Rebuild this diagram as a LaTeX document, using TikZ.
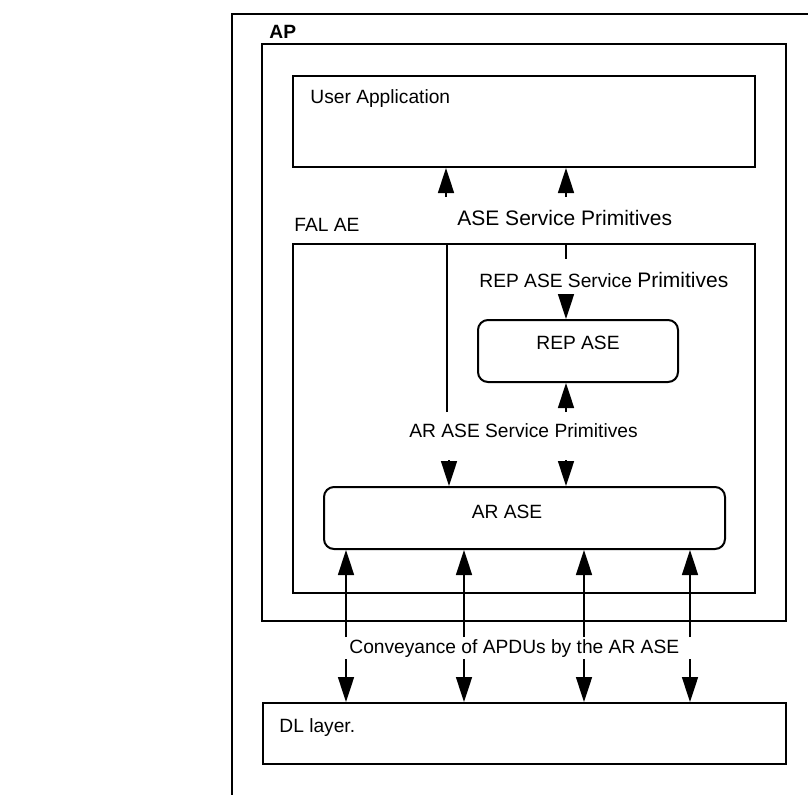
\documentclass[tikz,border=0pt]{standalone}
\usepackage{fontspec}
\setmainfont{Liberation Sans}
\usetikzlibrary{arrows.meta,fit}

\begin{document}
\begin{tikzpicture}[x=0.5pt,y=-0.5pt,>={Triangle[width=8pt,length=12.5pt]}]
  \tikzstyle{box}=[draw,line width=1pt,inner sep=0pt]
  \tikzstyle{rbox}=[box,rounded corners=5pt]
  \tikzstyle{txt}=[inner sep=0pt,anchor=base west,font=\fontsize{9.6}{11}\selectfont]
  \tikzstyle{ln}=[line width=0.8pt]
  \useasboundingbox (0,0) rectangle (808,794);
  \fill[white] (0,0) rectangle (808,794);

  % AP frame, runs off the page
  \node[box,fit={(232,14) (840,830)}] (ap) {};
  \node[txt,font=\bfseries\fontsize{9.6}{11}\selectfont] (aplbl) at (269,38) {AP};
  \node[box,fit={(262,44) (786,621)}] (apin) {};

  \node[box,fit={(293,76) (755,167)}] (ua) {};
  \node[txt] (ualbl) at (310,103) {User Application};

  \node[txt] (fallbl) at (294,231) {FAL AE};
  \node[box,fit={(293,244) (755,593)}] (fal) {};
  \node[rbox,fit={(478,320) (678,382)}] (rep) {};
  \node[txt,anchor=base] (replbl) at (578,349) {REP ASE};
  \node[rbox,fit={(324,487) (725,549)}] (ar) {};
  \node[txt,anchor=base] (arlbl) at (507,518) {AR ASE};

  \node[box,fit={(263,703) (786,764)}] (dl) {};
  \node[txt] (dllbl) at (279,732) {DL layer.};

  % service primitive labels
  \node[txt,font=\fontsize{10.5}{12}\selectfont] (asesp) at (457,225) {ASE Service Primitives};
  \node[txt] (repsp) at (479,287) {REP ASE Service {\fontsize{10.5}{12}\selectfont Primitives}};
  \node[txt] (arsp) at (409,437) {AR ASE Service Primitives};
  \node[txt] (conv) at (349,653) {Conveyance of APDUs by the AR ASE};

  % divider inside FAL AE
  \coordinate (dv) at (447,412);
  \draw[ln] (dv) -- (dv |- fal.north);

  % to user application
  \coordinate (u1) at (446,197);
  \coordinate (u2) at (566,197);
  \draw[ln,->] (u1) -- (u1 |- ua.south);
  \draw[ln,->] (u2) -- (u2 |- ua.south);

  % REP ASE
  \coordinate (s1) at (566,259);
  \draw[ln] (s1 |- fal.north) -- (s1);
  \coordinate (r1) at (566,298);
  \draw[ln,->] (r1) -- (r1 |- rep.north);
  \coordinate (r2) at (566,412);
  \draw[ln,->] (r2) -- (r2 |- rep.south);

  % AR ASE from above
  \coordinate (d1) at (449,460);
  \coordinate (d2) at (566,460);
  \draw[ln,->] (d1) -- (d1 |- ar.north);
  \draw[ln,->] (d2) -- (d2 |- ar.north);

  % APDUs up and down
  \coordinate (c1) at (346,637);
  \coordinate (c2) at (464,637);
  \coordinate (c3) at (584,637);
  \coordinate (c4) at (690,637);
  \draw[ln,->] (c1) -- (c1 |- ar.south);
  \draw[ln,->] (c2) -- (c2 |- ar.south);
  \draw[ln,->] (c3) -- (c3 |- ar.south);
  \draw[ln,->] (c4) -- (c4 |- ar.south);
  \coordinate (e1) at (346,659);
  \coordinate (e2) at (464,659);
  \coordinate (e3) at (584,659);
  \coordinate (e4) at (690,659);
  \draw[ln,->] (e1) -- (e1 |- dl.north);
  \draw[ln,->] (e2) -- (e2 |- dl.north);
  \draw[ln,->] (e3) -- (e3 |- dl.north);
  \draw[ln,->] (e4) -- (e4 |- dl.north);
\end{tikzpicture}
\end{document}
